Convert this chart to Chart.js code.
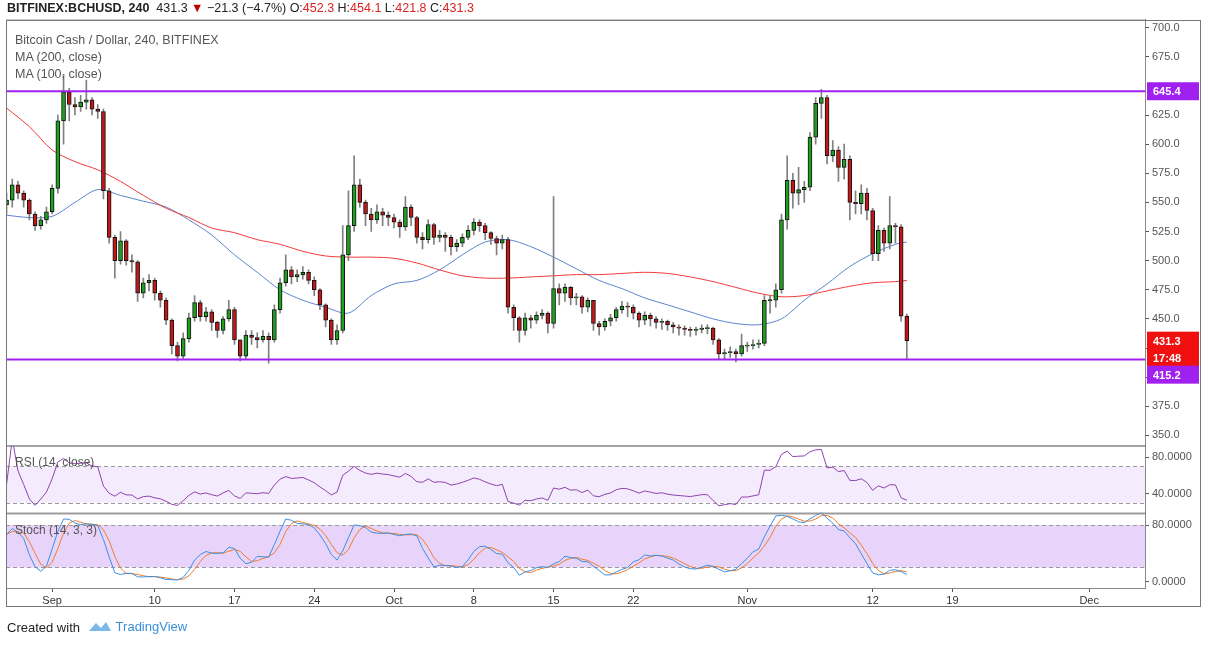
<!DOCTYPE html>
<html><head><meta charset="utf-8">
<script src="https://cdn.jsdelivr.net/npm/chart.js@4/dist/chart.umd.min.js"></script>
<style>
body{margin:0;width:1209px;height:646px;background:#fff;font-family:"Liberation Sans",Arial,sans-serif;position:relative;overflow:hidden}
canvas{position:absolute}
.t{position:absolute;white-space:nowrap;z-index:5}
#frame{position:absolute;left:6px;top:20px;width:1195px;height:587px;border:1px solid #777;box-sizing:border-box;pointer-events:none}
</style></head><body>
<canvas id="c1" style="left:6px;top:10px" width="1196" height="445"></canvas>
<canvas id="c2" style="left:6px;top:436px" width="1196" height="87"></canvas>
<canvas id="c3" style="left:6px;top:503px" width="1196" height="107"></canvas>
<div id="frame"></div>
<div class="t" style="left:7px;top:1px;font-size:12.5px;color:#222"><b>BITFINEX:BCHUSD, 240</b>&nbsp; 431.3 <span style="color:#b00">▼</span> −21.3 (−4.7%) O:<span style="color:#d22">452.3</span> H:<span style="color:#d22">454.1</span> L:<span style="color:#d22">421.8</span> C:<span style="color:#d22">431.3</span></div>
<div class="t" style="left:15px;top:32px;font-size:12.5px;color:#555;line-height:17px">Bitcoin Cash / Dollar, 240, BITFINEX<br>MA (200, close)<br>MA (100, close)</div>
<div class="t" style="left:15px;top:455px;font-size:12px;color:#555">RSI (14, close)</div>
<div class="t" style="left:15px;top:523px;font-size:12px;color:#555">Stoch (14, 3, 3)</div>
<div class="t" style="left:7px;top:620px;font-size:13px;color:#222">Created with</div>
<div class="t" style="left:88px;top:619px;font-size:13px;color:#3a8fd8"><svg width="24" height="14" viewBox="0 0 24 14" style="vertical-align:-2px"><path d="M1 12 L8 4 L13 9 L18 3 L23 12 Z" fill="#7ab8ea"/></svg>&nbsp;TradingView</div>
<script>
// ---- data (12h candles, starting Aug 28, day 0 = Sep 1) ----
const startDay = -4, stepDay = 0.5;
const closes = [552,565,558,552,540,530,535,542,562,620,645,634,632,636,638,630,628,560,520,500,517,500,499,472,481,483,472,466,449,427,418,433,451,464,452,456,447,440,450,458,432,418,436,434,432,435,432,458,481,492,486,488,490,483,475,462,449,432,440,505,530,565,550,540,535,542,539,537,533,529,546,537,520,518,531,520,522,520,512,515,520,526,533,530,524,519,515,518,460,451,440,451,449,453,455,446,476,472,477,468,469,460,466,446,443,448,451,458,461,460,455,449,453,450,447,448,445,443,442,441,440,441,442,442,432,420,421,422,420,427,427,428,429,466,466,475,535,569,558,561,563,606,635,640,590,595,580,587,550,549,558,543,506,526,515,530,529,452.3,431.3];
const highs = [558,570,568,560,553,542,538,546,565,625,660,648,640,642,655,640,634,630,562,522,525,518,505,500,485,488,485,474,468,450,430,438,455,470,466,460,458,448,452,466,460,432,440,440,438,440,438,462,485,505,495,492,495,492,486,476,463,450,445,530,560,590,570,552,545,548,545,542,540,535,555,548,538,524,535,532,526,524,522,518,523,530,536,535,532,525,521,522,520,462,452,455,453,456,458,456,555,480,480,478,472,470,468,466,448,450,454,460,465,464,462,456,456,455,452,450,449,447,445,444,443,443,445,445,443,433,424,426,424,437,430,432,432,470,470,480,540,590,575,580,568,610,640,647,642,603,598,600,590,560,565,562,545,530,528,555,532,531,454.1];
const lows = [540,546,553,546,535,526,527,532,540,558,600,620,625,628,630,625,622,553,515,485,497,496,490,465,468,474,466,460,445,420,414,416,430,448,448,448,440,434,437,448,428,414,415,428,425,430,412,430,455,478,480,482,484,480,470,458,443,428,428,438,500,525,546,530,525,532,530,530,528,520,526,530,515,510,515,514,516,508,505,508,512,518,522,525,518,514,505,510,455,440,430,436,442,446,450,438,442,462,465,462,462,455,456,440,436,440,444,448,455,452,450,443,445,444,442,441,440,438,436,436,435,436,438,437,428,415,415,417,413,418,422,424,425,427,455,460,472,527,545,548,550,560,600,622,583,585,568,570,535,540,540,535,500,500,508,510,515,448,415.2];
const firstOpen = 548;
// moving averages, every 2 days from day -4
const maDays = [-4,-2,0,2,4,6,8,10,12,14,16,18,20,22,24,26,28,30,32,34,36,38,40,42,44,46,48,50,52,54,56,58,60,62,64,66,68,70,72,74,75];
const ma200 = [631,615,595,585,578,568,556,545,537,528,524,518,514,508,504,503,503,502,498,492,487,485,485,486,487,488,488,489,490,489,486,482,477,472,469,470,474,478,481,482,483];
const ma100 = [539,537,538,550,561,556,551,546,535,522,505,490,475,466,460,455,470,480,483,492,505,516,518,512,503,493,483,476,468,462,456,450,446,445,450,466,480,495,506,514,516];
const levels = [645.4, 415.2];
const tickDays = [0,9,16,23,30,37,44,51,61,72,79,91];
const tickLabels = ['Sep','10','17','24','Oct','8','15','22','Nov','12','19','Dec'];
const priceTicks = [350,375,400,425,450,475,500,525,550,575,600,625,650,675,700];

const X_MIN = -4.05, X_MAX = 95.9, AXW = 57;
const opens = closes.map((c,i)=> i===0 ? firstOpen : closes[i-1]);
const xs = closes.map((_,i)=> startDay + i*stepDay);
const wick = xs.map((x,i)=>({x, y:[lows[i], highs[i]]}));
const body = xs.map((x,i)=>{let a=Math.min(opens[i],closes[i]),b=Math.max(opens[i],closes[i]); if(b-a<1){b+=0.5;a-=0.5;} return {x,y:[a,b]};});
const bodyCol = closes.map((c,i)=> c>=opens[i] ? '#1f9e1f' : '#c01818');

// indicators derived from closes
function rsi(cl,n){const out=[];let ag=0,al=0;for(let i=0;i<cl.length;i++){if(i===0){out.push(50);continue;}const d=cl[i]-cl[i-1];const g=Math.max(d,0),l=Math.max(-d,0);const k=Math.min(i,n);ag=(ag*(k-1)+g)/k;al=(al*(k-1)+l)/k;out.push(al===0?100:100-100/(1+ag/al));}return out;}
function sma(a,n){return a.map((_,i)=>{const s=a.slice(Math.max(0,i-n+1),i+1);return s.reduce((p,q)=>p+q,0)/s.length;});}
const rsiV = rsi(closes,14);
const rawK = closes.map((c,i)=>{const s=Math.max(0,i-13);const hh=Math.max(...highs.slice(s,i+1)),ll=Math.min(...lows.slice(s,i+1));return hh===ll?50:(c-ll)/(hh-ll)*100;});
const kV = sma(rawK,3), dV = sma(kV,3);

const axisFont = {family:'"Liberation Sans",Arial,sans-serif', size:11};
function yAxis(min,max,ticks,fmt){return {position:'right',min,max,afterFit:s=>{s.width=AXW;},
  afterBuildTicks:s=>{s.ticks=ticks.map(v=>({value:v}));},
  ticks:{callback:fmt,color:'#555',font:axisFont,padding:3},
  grid:{drawOnChartArea:false,tickLength:4,color:'#555'},border:{color:'#777'}};}
const frame = {id:'frame',afterDraw(c){const a=c.chartArea,x=c.ctx;x.save();x.strokeStyle='#888';x.lineWidth=1;x.strokeRect(a.left+0.5,a.top+0.5,a.right-a.left,a.bottom-a.top);x.restore();}};
function band(lo,hi,fill){return {id:'band',beforeDatasetsDraw(c){const a=c.chartArea,y=c.scales.y,x=c.ctx;x.save();x.fillStyle=fill;x.fillRect(a.left,y.getPixelForValue(hi),a.right-a.left,y.getPixelForValue(lo)-y.getPixelForValue(hi));x.strokeStyle='#999';x.setLineDash([4,3]);[lo,hi].forEach(v=>{const p=Math.round(y.getPixelForValue(v))+0.5;x.beginPath();x.moveTo(a.left,p);x.lineTo(a.right,p);x.stroke();});x.restore();}};}

function box(ctx,x,y,txt,col){ctx.fillStyle=col;ctx.fillRect(x,y-9,52,18);ctx.fillStyle='#fff';ctx.font='bold 11px "Liberation Sans",Arial';ctx.textBaseline='middle';ctx.fillText(txt,x+6,y+1);}
const priceMarks = {id:'pm',afterDraw(c){const a=c.chartArea,y=c.scales.y,x=c.ctx;x.save();
  x.strokeStyle='#a020f0';x.lineWidth=2;levels.forEach(v=>{const p=y.getPixelForValue(v);x.beginPath();x.moveTo(a.left,p);x.lineTo(a.right,p);x.stroke();});
  const last=closes[closes.length-1];const pl=y.getPixelForValue(last);
  x.fillStyle='#fff';x.fillRect(a.right+1,y.getPixelForValue(levels[0])-12,54,22);
  box(x,a.right+2,y.getPixelForValue(levels[0]),levels[0].toFixed(1),'#a020f0');
  box(x,a.right+2,pl,last.toFixed(1),'#f01010');
  box(x,a.right+2,pl+17,'17:48','#f01010');
  box(x,a.right+2,Math.max(y.getPixelForValue(levels[1]),pl+34),levels[1].toFixed(1),'#a020f0');
  x.restore();}};

new Chart(document.getElementById('c1'),{
  data:{datasets:[
    {type:'line',data:maDays.map((d,i)=>({x:d,y:ma200[i]})),borderColor:'#f23a3a',borderWidth:1,pointRadius:0,tension:0.3,order:3},
    {type:'line',data:maDays.map((d,i)=>({x:d,y:ma100[i]})),borderColor:'#5b84d0',borderWidth:1,pointRadius:0,tension:0.3,order:3},
    {type:'bar',data:wick,backgroundColor:'#808080',barThickness:1,grouped:false,order:2},
    {type:'bar',data:body,backgroundColor:bodyCol,borderColor:'#111',borderWidth:1,borderSkipped:false,barThickness:4,grouped:false,order:1}
  ]},
  options:{responsive:false,animation:false,layout:{padding:0},plugins:{legend:{display:false},tooltip:{enabled:false}},
    scales:{x:{type:'linear',min:X_MIN,max:X_MAX,display:false,offset:false},
      y:yAxis(341.4,706.9,priceTicks,v=>v.toFixed(1))}},
  plugins:[frame,priceMarks]});

new Chart(document.getElementById('c2'),{type:'line',
  data:{datasets:[{data:xs.map((x,i)=>({x,y:rsiV[i]})),borderColor:'#8e44ad',borderWidth:1,pointRadius:0}]},
  options:{responsive:false,animation:false,layout:{padding:0},plugins:{legend:{display:false},tooltip:{enabled:false}},
    scales:{x:{type:'linear',min:X_MIN,max:X_MAX,display:false},y:yAxis(18.3,92.6,[40,80],v=>v.toFixed(4))}},
  plugins:[frame,band(30,70,'rgba(170,110,230,0.13)')]});

new Chart(document.getElementById('c3'),{type:'line',
  data:{datasets:[
    {data:xs.map((x,i)=>({x,y:kV[i]})),borderColor:'#3d8fe0',borderWidth:1,pointRadius:0},
    {data:xs.map((x,i)=>({x,y:dV[i]})),borderColor:'#f07d2e',borderWidth:1,pointRadius:0}]},
  options:{responsive:false,animation:false,layout:{padding:0},plugins:{legend:{display:false},tooltip:{enabled:false}},
    scales:{x:{type:'linear',min:X_MIN,max:X_MAX,afterFit:s=>{s.height=22;},
        afterBuildTicks:s=>{s.ticks=tickDays.map(v=>({value:v}));},
        ticks:{callback:v=>tickLabels[tickDays.indexOf(v)],color:'#333',font:axisFont,maxRotation:0,autoSkip:false,padding:2},
        grid:{drawOnChartArea:false,tickLength:4,color:'#555'},border:{color:'#777'}},
      y:yAxis(-9,97.6,[0,80],v=>v.toFixed(4))}},
  plugins:[frame,band(20,80,'rgba(190,130,240,0.35)')]});
</script></body></html>
